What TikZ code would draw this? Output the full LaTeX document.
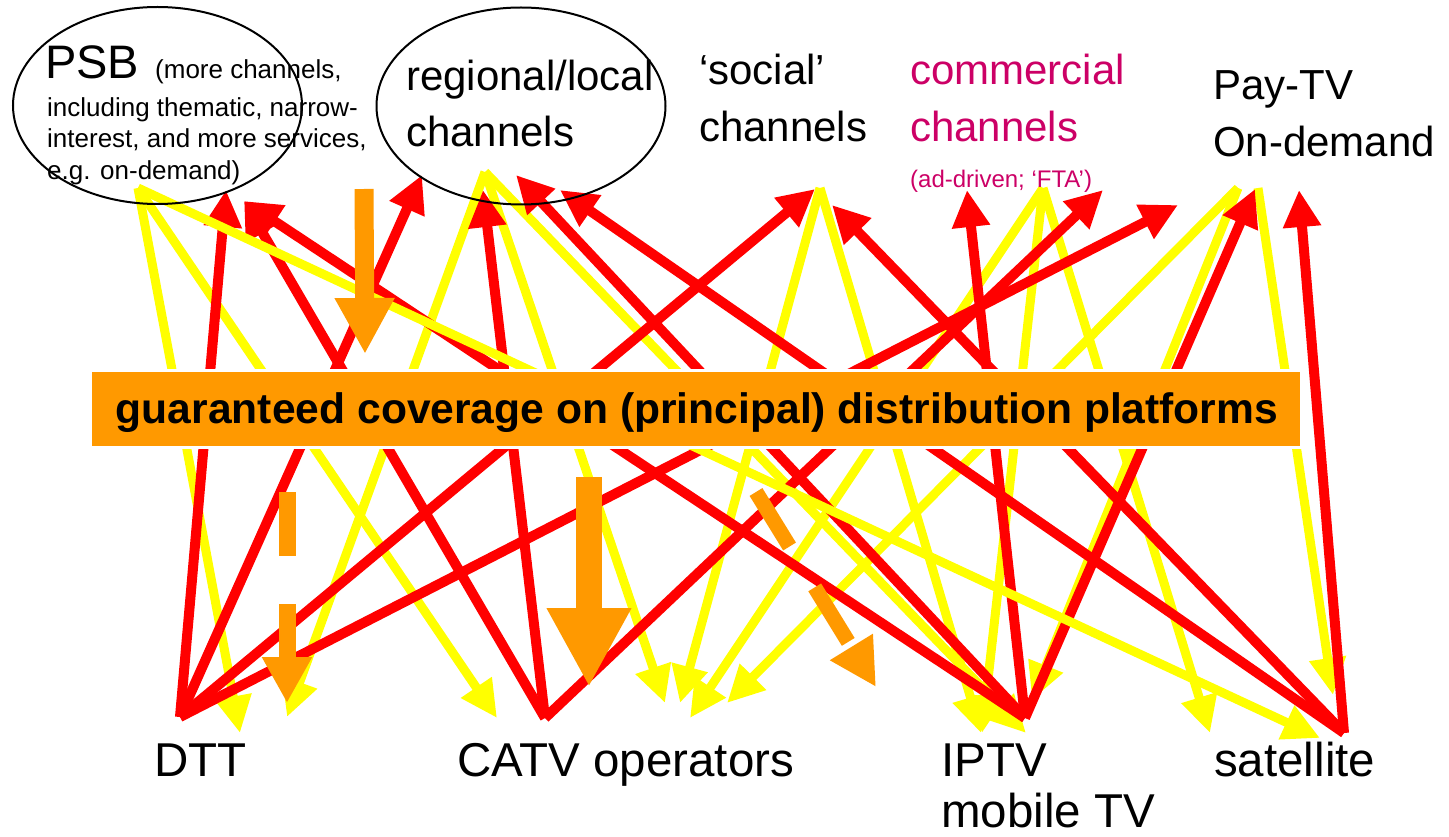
\documentclass[tikz,border=0pt]{standalone}
\usepackage{fontspec}
\setmainfont{Liberation Sans}
\usetikzlibrary{arrows.meta,shapes.geometric}
\definecolor{rd}{HTML}{FF0000}
\definecolor{yl}{HTML}{FFFF00}
\definecolor{og}{HTML}{FF9900}
\definecolor{mg}{HTML}{CC0066}
\begin{document}
\begin{tikzpicture}[x=1pt,y=-1pt,
  redarr/.style={draw=rd, line width=10pt, -{Triangle[length=37pt,width=36pt]}},
  yelarr/.style={draw=yl, line width=9pt, -{Triangle[length=37pt,width=35pt]}},
  orarr/.style={draw=og},
  lbl/.style={anchor=base west, inner sep=0pt, font=\fontsize{42}{50}\selectfont},
  blbl/.style={anchor=base west, inner sep=0pt, font=\fontsize{47.5}{56}\selectfont},
  slbl/.style={anchor=base west, inner sep=0pt, font=\fontsize{26}{31}\selectfont},
  ell/.style={draw=black, line width=2pt, ellipse, inner sep=0pt, minimum width=289pt, minimum height=197pt}
]
\useasboundingbox (0,0) rectangle (1449,837);
% top anchors
\coordinate (Ypsb) at (138,188);
\coordinate (Rpsb1) at (226,190);
\coordinate (Rpsb2) at (244,201);
\coordinate (Rreg1) at (422,175);
\coordinate (Yreg) at (485,172);
\coordinate (Rreg2) at (483,190);
\coordinate (Rreg3) at (516,175);
\coordinate (Rreg4) at (560,190);
\coordinate (Rsoc1) at (815,189);
\coordinate (Ysoc) at (820,188);
\coordinate (Rsoc2) at (832,205);
\coordinate (Rcom1) at (967,190);
\coordinate (Ycom) at (1043,188);
\coordinate (Rcom2) at (1103,190);
\coordinate (Rcom3) at (1178,205);
\coordinate (Ypay1) at (1238,188);
\coordinate (Rpay1) at (1255,189);
\coordinate (Ypay2) at (1258,188);
\coordinate (Rpay2) at (1299,190);
% bottom anchors
\coordinate (Rdtt) at (180,717);
\coordinate (Ydtt1) at (240,733);
\coordinate (Ydtt2) at (287,717);
\coordinate (Rcatv) at (545,718);
\coordinate (Ycatv1) at (497,718);
\coordinate (Ycatv2) at (665,703);
\coordinate (Ycatv3) at (680,703);
\coordinate (Ycatv4) at (690,718);
\coordinate (Ycatv5) at (727,703);
\coordinate (Riptv) at (1025,718);
\coordinate (Yiptv1) at (981,733);
\coordinate (Yiptv2) at (982,733);
\coordinate (Yiptv3) at (1026,733);
\coordinate (Yiptv4) at (1032,700);
\coordinate (Rsat) at (1344,733);
\coordinate (Ysat1) at (1210,733);
\coordinate (Ysat2) at (1320,738);
\coordinate (Ysat3) at (1333,695);
% yellow arrows (channels -> platforms)
\draw[yelarr] (Ypsb) -- (Ydtt1);
\draw[yelarr] (Ypsb) -- (Ycatv1);
\draw[yelarr] (Yreg) -- (Ydtt2);
\draw[yelarr] (Yreg) -- (Ycatv2);
\draw[yelarr] (Yreg) -- (Yiptv3);
\draw[yelarr] (Ysoc) -- (Ycatv3);
\draw[yelarr] (Ysoc) -- (Yiptv1);
\draw[yelarr] (Ycom) -- (Ycatv4);
\draw[yelarr] (Ycom) -- (Yiptv2);
\draw[yelarr] (Ycom) -- (Ysat1);
\draw[yelarr] (Ypay1) -- (Ycatv5);
\draw[yelarr] (Ypay1) -- (Yiptv4);
\draw[yelarr] (Ypay2) -- (Ysat3);
% red arrows (platforms -> channels)
\draw[redarr] (Rdtt) -- (Rpsb1);
\draw[redarr] (Rdtt) -- (Rreg1);
\draw[redarr] (Rdtt) -- (Rsoc1);
\draw[redarr] (Rdtt) -- (Rcom3);
\draw[redarr] (Rcatv) -- (Rpsb2);
\draw[redarr] (Rcatv) -- (Rreg2);
\draw[redarr] (Rcatv) -- (Rcom2);
\draw[redarr] (Riptv) -- (Rpsb2);
\draw[redarr] (Riptv) -- (Rreg3);
\draw[redarr] (Riptv) -- (Rcom1);
\draw[redarr] (Riptv) -- (Rpay1);
\draw[redarr] (Rsat) -- (Rreg4);
\draw[redarr] (Rsat) -- (Rsoc2);
\draw[redarr] (Rsat) -- (Rpay2);
\draw[yelarr] (Ypsb) -- (Ysat2);
% central box
\node[fill=og, draw=white, line width=3pt, inner sep=0pt, minimum width=1211pt, minimum height=77pt] (box) at (696,409) {};
\node[anchor=base, inner sep=0pt, font=\fontsize{42.6}{50}\selectfont\bfseries] (boxtext) at (697,423) {guaranteed coverage on (principal) distribution platforms};
% orange arrows
\coordinate (O1s) at (364,189); \coordinate (O1e) at (365,354);
\coordinate (O2s) at (287,492); \coordinate (O2e) at (287,703);
\coordinate (O3s) at (589,477); \coordinate (O3e) at (589,687);
\coordinate (O4s) at (756,492); \coordinate (O4e) at (876,687);
\draw[orarr, line width=19pt, -{Triangle[length=56pt,width=56pt]}] (O1s) -- (O1e);
\draw[orarr, line width=17pt, dash pattern=on 64pt off 48pt, -{Triangle[length=46pt,width=47pt]}] (O2s) -- (O2e);
\draw[orarr, line width=26pt, -{Triangle[length=79pt,width=79pt]}] (O3s) -- (O3e);
\draw[orarr, line width=15pt, dash pattern=on 64pt off 48pt, -{Triangle[length=47pt,width=47pt]}] (O4s) -- (O4e);
% ellipses
\node[ell] (psbell) at (157.5,105.5) {};
\node[ell] (regell) at (521,106) {};
% top labels
\node[anchor=base west, inner sep=0pt, font=\fontsize{47}{56}\selectfont] (psb) at (45,79) {PSB};
\node[slbl] (psb1) at (155,79) {(more channels,};
\node[slbl] (psb2) at (47,117) {including thematic, narrow-};
\node[slbl] (psb3) at (47,148) {interest, and more services,};
\node[slbl] (psb4) at (47,180) {e.g. on-demand)};
\node[lbl] (reg1) at (406,91) {regional/local};
\node[lbl] (reg2) at (406,147) {channels};
\node[lbl] (soc1) at (699,85) {‘social’};
\node[lbl] (soc2) at (699,142) {channels};
\node[lbl, text=mg] (com1) at (910,85) {commercial};
\node[lbl, text=mg] (com2) at (910,142) {channels};
\node[anchor=base west, inner sep=0pt, font=\fontsize{24}{28}\selectfont, text=mg] (com3) at (910,188) {(ad-driven; ‘FTA’)};
\node[lbl] (pay1) at (1213,100) {Pay-TV};
\node[lbl] (pay2) at (1213,157) {On-demand};
% bottom labels
\node[blbl] (dtt) at (154,776) {DTT};
\node[blbl] (catv) at (457,776) {CATV operators};
\node[blbl] (iptv) at (941,776) {IPTV};
\node[blbl] (mob) at (941,827) {mobile TV};
\node[blbl] (sat) at (1214,776) {satellite};
\end{tikzpicture}
\end{document}
